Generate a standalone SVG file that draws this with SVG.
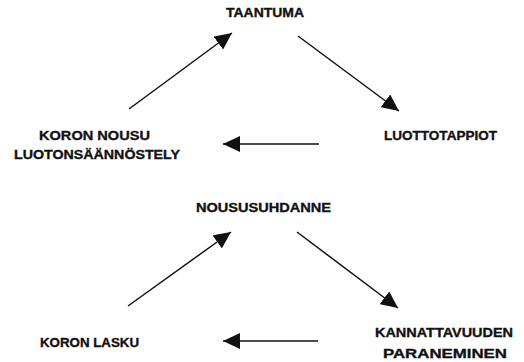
<svg xmlns="http://www.w3.org/2000/svg" width="524" height="362" viewBox="0 0 524 362">
<style>
text{font-family:"Liberation Sans",Arial,sans-serif;font-weight:bold;font-size:13.5px;fill:#111;stroke:#111;stroke-width:0.35}
.c line{stroke:#111;stroke-width:1.5;fill:none}
</style>
<defs>
<marker id="ah" markerUnits="userSpaceOnUse" markerWidth="18" markerHeight="16" refX="17" refY="8" orient="auto">
<path d="M0,0 L17,8 L0,16 z" fill="#111"/>
</marker>
</defs>
<rect width="524" height="362" fill="#fff"/>
<g id="taantuma"><text x="226" y="16.5" textLength="78" lengthAdjust="spacingAndGlyphs">TAANTUMA</text></g>
<g id="luottotappiot"><text x="384" y="140" textLength="113" lengthAdjust="spacingAndGlyphs">LUOTTOTAPPIOT</text></g>
<g id="koron-nousu"><text x="39" y="140" textLength="111" lengthAdjust="spacingAndGlyphs">KORON NOUSU</text><text x="14" y="159" textLength="166" lengthAdjust="spacingAndGlyphs">LUOTONSÄÄNNÖSTELY</text></g>
<g id="noususuhdanne"><text x="196" y="212" textLength="135" lengthAdjust="spacingAndGlyphs">NOUSUSUHDANNE</text></g>
<g id="kannattavuuden"><text x="375" y="337" textLength="138" lengthAdjust="spacingAndGlyphs">KANNATTAVUUDEN</text><text x="383" y="358" textLength="124" lengthAdjust="spacingAndGlyphs">PARANEMINEN</text></g>
<g id="koron-lasku"><text x="40" y="347" textLength="99" lengthAdjust="spacingAndGlyphs">KORON LASKU</text></g>
<g class="c" id="connectors">
<line x1="129" y1="109" x2="232" y2="33" marker-end="url(#ah)"/>
<line x1="298" y1="36" x2="399" y2="111" marker-end="url(#ah)"/>
<line x1="319" y1="144" x2="223" y2="144" marker-end="url(#ah)"/>
<line x1="128" y1="306" x2="231" y2="232" marker-end="url(#ah)"/>
<line x1="297" y1="232" x2="398" y2="308" marker-end="url(#ah)"/>
<line x1="318" y1="341" x2="223" y2="341" marker-end="url(#ah)"/>
</g>
</svg>
